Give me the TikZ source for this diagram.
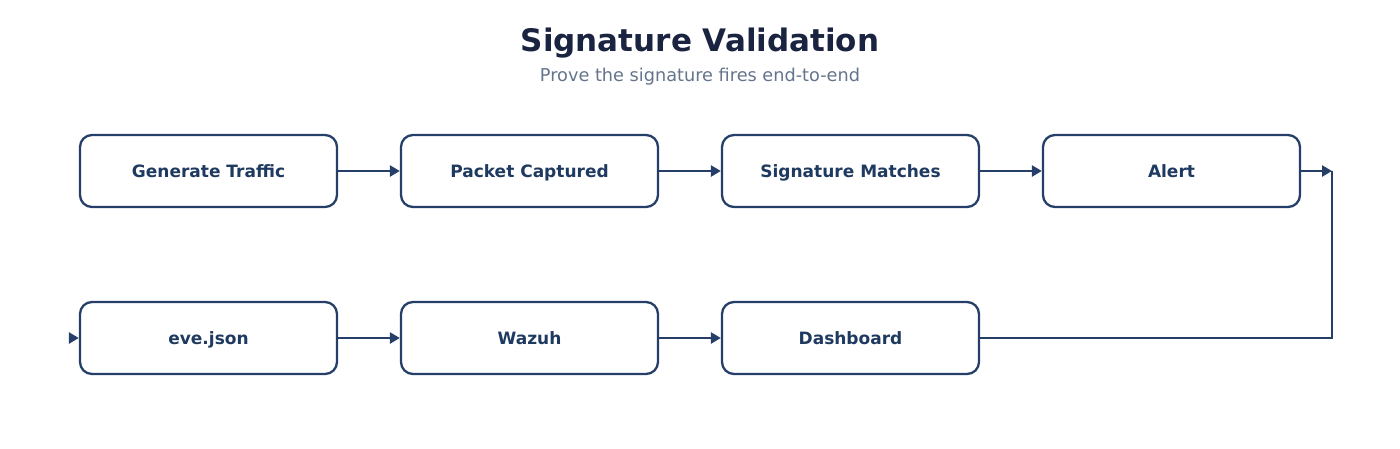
\documentclass[tikz,border=0pt]{standalone}
\usepackage{fontspec}
\setmainfont{DejaVu Sans}
\usetikzlibrary{arrows.meta}
\definecolor{navy}{HTML}{263F68}
\definecolor{titlec}{HTML}{1A2440}
\definecolor{subc}{HTML}{64748B}
\definecolor{labelc}{HTML}{1F3A60}
\tikzset{
  stepbox/.style={draw=navy, line width=2.3pt, rounded corners=12pt, minimum width=257pt, minimum height=72pt, inner sep=0pt, fill=white,
    font=\fontsize{17}{20}\selectfont\bfseries, text=labelc, text height=13.5pt, text depth=1pt},
  conn/.style={draw=navy, line width=2.8pt},
  arr/.style={conn, -{Triangle[length=10pt,width=11pt]}},
}
\begin{document}
\begin{tikzpicture}[x=1pt,y=-1pt]
\useasboundingbox (0,0) rectangle (1400,448);
\node[font=\fontsize{31}{36}\selectfont\bfseries, text=titlec] (title) at (700,43) {Signature Validation};
\node[font=\fontsize{17.7}{21}\selectfont, text=subc] (sub) at (700,77) {Prove the signature fires end-to-end};
\node[stepbox] (gen) at (208.5,171) {Generate Traffic};
\node[stepbox] (pkt) at (529.5,171) {Packet Captured};
\node[stepbox] (sig) at (850.5,171) {Signature Matches};
\node[stepbox] (alert) at (1171.5,171) {Alert};
\node[stepbox] (eve) at (208.5,338) {eve.json};
\node[stepbox] (waz) at (529.5,338) {Wazuh};
\node[stepbox] (dash) at (850.5,338) {Dashboard};
\coordinate (c1) at (1332,171);
\coordinate (c2) at (1332,338);
\coordinate (c3) at (71,338);
\draw[arr] (gen.east) -- (pkt.west);
\draw[arr] (pkt.east) -- (sig.west);
\draw[arr] (sig.east) -- (alert.west);
\draw[arr] (alert.east) -- (c1);
\draw[conn] (dash.east) -- (c2) -- (c1);
\draw[arr, shorten <=-1pt] (c3) -- (eve.west);
\draw[arr] (eve.east) -- (waz.west);
\draw[arr] (waz.east) -- (dash.west);
\end{tikzpicture}
\end{document}
